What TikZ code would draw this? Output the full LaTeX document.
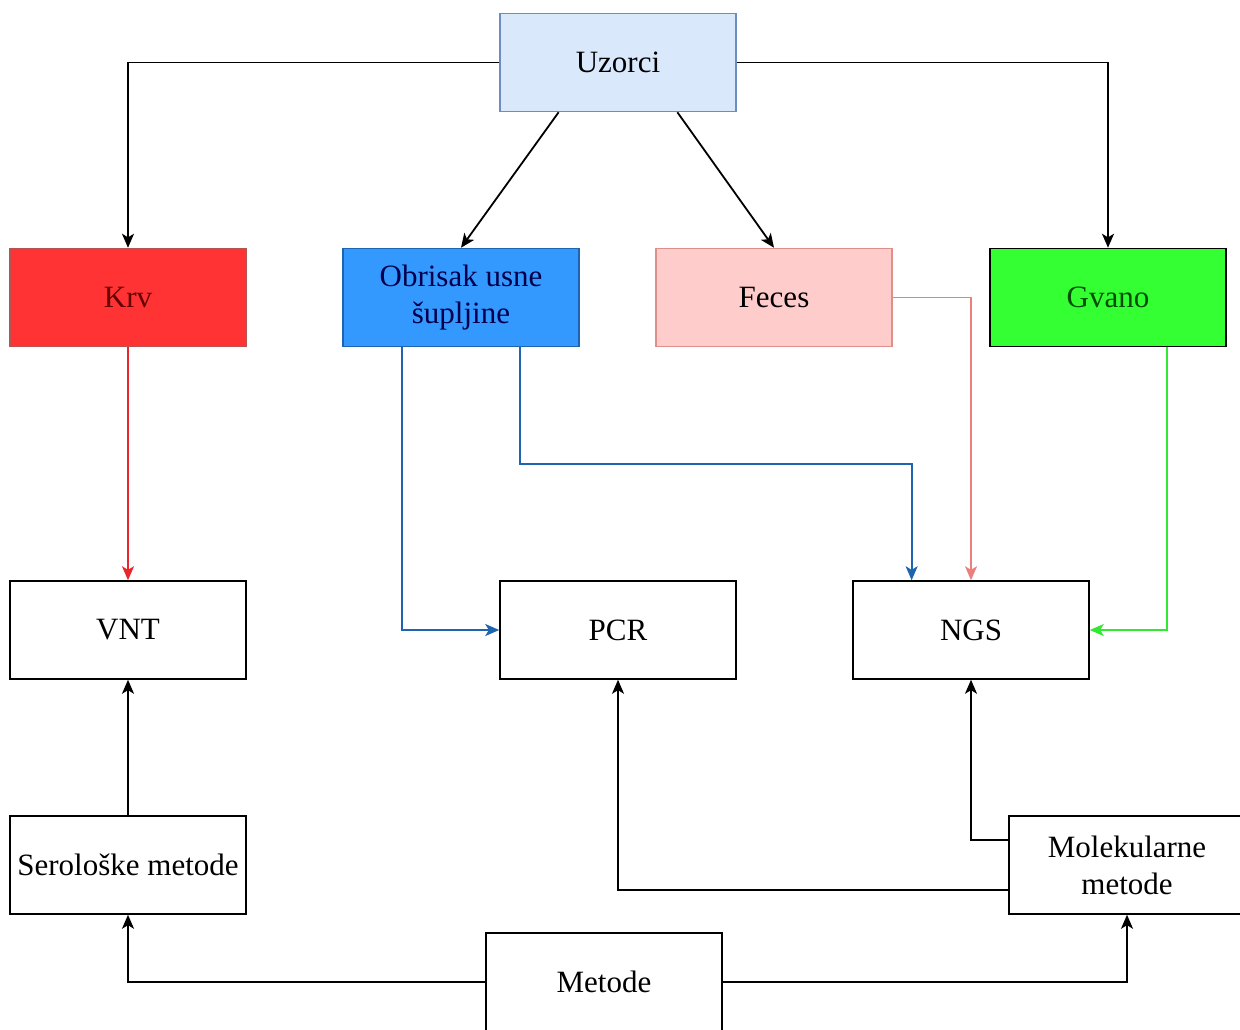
\documentclass[tikz,border=0pt]{standalone}
\usepackage{fontspec}
\setmainfont{Liberation Serif}
\usetikzlibrary{arrows.meta,calc}
\definecolor{uzfill}{HTML}{DAE8FC}
\definecolor{uzdraw}{HTML}{6C8EBF}
\definecolor{krvfill}{HTML}{FF3333}
\definecolor{krvdraw}{HTML}{B85450}
\definecolor{obrfill}{HTML}{3399FF}
\definecolor{obrdraw}{HTML}{1F64B0}
\definecolor{fecfill}{HTML}{FFCCCC}
\definecolor{fecdraw}{HTML}{E08E8A}
\definecolor{gvfill}{HTML}{33FF33}
\definecolor{redline}{HTML}{E8262B}
\definecolor{blueline}{HTML}{1F64B0}
\definecolor{pinkline}{HTML}{EA7F7B}
\definecolor{greenline}{HTML}{33E833}
\begin{document}
\begin{tikzpicture}[x=0.5pt,y=-0.5pt,
        box/.style={draw,line width=0.75pt,minimum width=118pt,minimum height=49pt,
            inner sep=0pt,align=center,font=\fontsize{15.5}{18.5}\selectfont},
        link/.style={line width=0.9pt,-{Stealth[length=7pt,width=6pt,inset=1.8pt]}}]
            \useasboundingbox (0,0) rectangle (1240,1029);
            % samples
            \node[box,fill=uzfill,draw=uzdraw] (uzorci) at (618,62.5) {Uzorci};
            \node[box,fill=krvfill,draw=krvdraw,text=black!60!red] (krv) at (128,297.5) {Krv};
            \node[box,fill=obrfill,draw=obrdraw,text=blue!30!black] (obrisak) at (461,297.5) {Obrisak usne\\šupljine};
            \node[box,fill=fecfill,draw=fecdraw] (feces) at (774,297.5) {Feces};
            \node[box,fill=gvfill,text=green!30!black] (gvano) at (1108,297.5) {Gvano};
            % methods
            \node[box] (vnt) at (128,630) {VNT};
            \node[box] (pcr) at (618,630) {PCR};
            \node[box] (ngs) at (971,630) {NGS};
            \node[box] (serol) at (128,865) {Serološke metode};
            \node[box] (molek) at (1127,865) {Molekularne\\metode};
            \node[box] (metode) at (604,982) {Metode};
            % points on the box sides
            \coordinate (UZ1) at ($(uzorci.south west)!0.25!(uzorci.south east)$);
            \coordinate (UZ2) at ($(uzorci.south west)!0.75!(uzorci.south east)$);
            \coordinate (OB1) at ($(obrisak.south west)!0.25!(obrisak.south east)$);
            \coordinate (OB2) at ($(obrisak.south west)!0.75!(obrisak.south east)$);
            \coordinate (GV) at ($(gvano.south west)!0.75!(gvano.south east)$);
            \coordinate (NG) at ($(ngs.north west)!0.25!(ngs.north east)$);
            \coordinate (MID) at ($(obrisak.south)!0.5!(ngs.north)$);
            \coordinate (MO1) at ($(molek.north west)!0.25!(molek.south west)$);
            \coordinate (MO2) at ($(molek.north west)!0.75!(molek.south west)$);
            % connectors
            \draw[link] (uzorci.west) -| (krv.north);
            \draw[link] (uzorci.east) -| (gvano.north);
            \draw[link] (UZ1) -- (obrisak.north);
            \draw[link] (UZ2) -- (feces.north);
            \draw[link,redline] (krv.south) -- (vnt.north);
            \draw[link,blueline] (OB1) |- (pcr.west);
            \draw[link,blueline] (OB2) |- (MID) -| (NG);
            \draw[link,pinkline] (feces.east) -| (ngs.north);
            \draw[link,greenline] (GV) |- (ngs.east);
            \draw[link] (serol.north) -- (vnt.south);
            \draw[link] (MO1) -| (ngs.south);
            \draw[link] (MO2) -| (pcr.south);
            \draw[link] (metode.west) -| (serol.south);
            \draw[link] (metode.east) -| (molek.south);
        \end{tikzpicture}
\end{document}
